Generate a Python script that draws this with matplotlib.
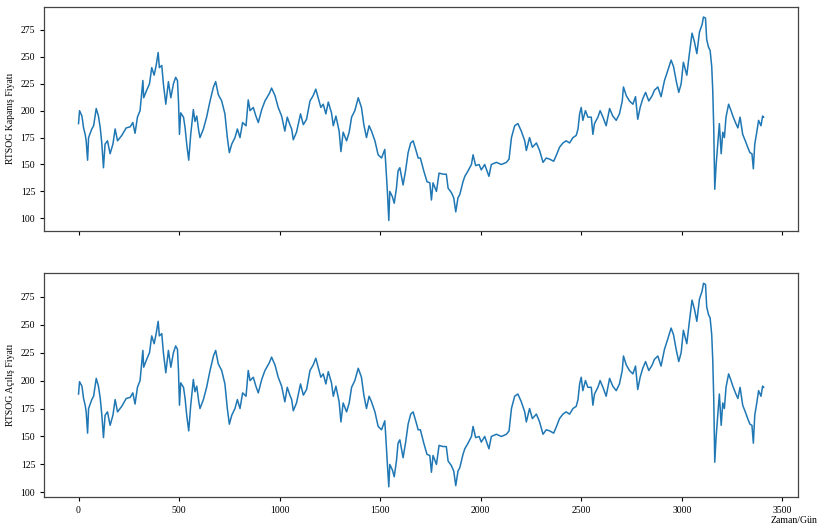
import matplotlib
matplotlib.use("Agg")
import matplotlib.pyplot as plt

plt.rcParams['font.family'] = ['Liberation Serif', 'DejaVu Serif']

# Gun / fiyat (resimden okunan yaklasik degerler)
days = [0, 5, 17, 25, 33, 38, 45, 50, 66, 75, 88, 99, 108, 116, 121, 124, 132, 144, 157, 171,
        182, 194, 215, 237, 257, 270, 281, 293, 306, 320, 324, 339, 353, 364, 376, 386, 396, 402,
        414, 422, 434, 447, 459, 472, 483, 492, 497, 502, 508, 522, 530, 538, 548, 558, 571, 579,
        588, 598, 604, 621, 637, 654, 671, 682, 695, 712, 728, 740, 750, 762, 778, 790, 803, 816,
        833, 844, 853, 869, 882, 894, 911, 927, 949, 960, 977, 993, 1010, 1026, 1038, 1051, 1060,
        1068, 1084, 1104, 1118, 1134, 1151, 1167, 1180, 1192, 1205, 1217, 1230, 1242, 1258, 1267,
        1280, 1296, 1305, 1316, 1333, 1346, 1358, 1374, 1391, 1407, 1419, 1432, 1445, 1457, 1474,
        1490, 1507, 1523, 1528, 1536, 1543, 1548, 1561, 1570, 1581, 1589, 1598, 1614, 1627, 1639,
        1652, 1664, 1680, 1689, 1700, 1717, 1733, 1747, 1755, 1763, 1780, 1793, 1813, 1829, 1838,
        1854, 1866, 1876, 1887, 1896, 1912, 1921, 1937, 1954, 1962, 1975, 1992, 2003, 2020, 2041,
        2053, 2078, 2103, 2128, 2141, 2153, 2169, 2185, 2202, 2219, 2227, 2243, 2257, 2277, 2293,
        2310, 2326, 2343, 2363, 2377, 2392, 2409, 2425, 2442, 2459, 2475, 2484, 2492, 2500, 2508,
        2521, 2533, 2550, 2558, 2566, 2583, 2594, 2608, 2624, 2641, 2657, 2674, 2690, 2704, 2710,
        2724, 2740, 2757, 2770, 2781, 2793, 2806, 2820, 2836, 2853, 2864, 2881, 2897, 2914, 2930,
        2947, 2959, 2972, 2985, 2997, 3008, 3025, 3038, 3051, 3063, 3075, 3088, 3101, 3108, 3118,
        3124, 3133, 3141, 3149, 3154, 3159, 3164, 3171, 3179, 3187, 3196, 3204, 3212, 3220, 3233,
        3245, 3254, 3267, 3279, 3290, 3303, 3316, 3328, 3339, 3349, 3356, 3363, 3373, 3382, 3394,
        3402, 3407]

kapanis = [188, 200, 195, 184, 178, 172, 154, 175, 183, 186, 202, 195, 184, 169, 156, 147, 169, 172, 160, 169,
           183, 172, 177, 184, 185, 189, 179, 194, 200, 228, 212, 219, 225, 240, 233, 242, 254, 240,
           242, 225, 206, 227, 212, 225, 231, 228, 209, 178, 198, 194, 184, 169, 154, 178, 201, 190,
           195, 181, 175, 183, 194, 209, 222, 227, 215, 209, 197, 175, 161, 169, 175, 183, 175, 189,
           186, 210, 200, 203, 195, 189, 201, 209, 216, 221, 214, 203, 195, 181, 194, 187, 183,
           173, 180, 197, 187, 192, 209, 214, 220, 212, 203, 206, 197, 208, 198, 186,
           195, 181, 162, 180, 172, 180, 194, 200, 212, 203, 187, 175, 186, 181, 172,
           159, 156, 164, 150, 125, 98, 125, 120, 114, 128, 144, 147, 131, 145, 161,
           170, 172, 162, 156, 156, 144, 134, 133, 117, 133, 125, 142, 141, 141, 128,
           124, 119, 106, 119, 122, 134, 139, 144, 150, 159, 149, 150, 145, 150, 139,
           150, 152, 150, 152, 155, 175, 186, 188, 181, 172, 163, 175, 166, 170, 163,
           152, 156, 155, 153, 159, 166, 170, 172, 170, 175, 177, 183, 197, 203, 191,
           200, 194, 194, 178, 188, 194, 200, 194, 186, 202, 195, 191, 197, 209, 222,
           214, 209, 206, 213, 192, 203, 211, 217, 209, 214, 219, 222, 213, 228, 237,
           247, 241, 228, 217, 225, 245, 233, 253, 272, 264, 253, 273, 280, 287, 286,
           266, 259, 256, 241, 219, 184, 127, 150, 169, 188, 160, 180, 175, 194, 206,
           200, 195, 189, 184, 194, 178, 172, 166, 161, 160, 146, 169, 180, 191, 186,
           195, 194]

acilis = [188, 199, 195, 184, 178, 172, 153, 175, 183, 186, 202, 195, 184, 169, 156, 149, 169, 172, 160, 169,
          183, 172, 177, 184, 185, 189, 179, 194, 200, 227, 212, 219, 225, 240, 233, 242, 253, 240,
          242, 225, 207, 227, 212, 225, 231, 228, 209, 178, 198, 194, 184, 169, 155, 178, 201, 190,
          195, 181, 175, 183, 194, 209, 222, 227, 215, 209, 197, 175, 161, 169, 175, 183, 175, 189,
          186, 209, 200, 203, 195, 189, 201, 209, 216, 221, 214, 203, 195, 181, 194, 187, 183,
          173, 180, 197, 187, 192, 209, 214, 220, 212, 203, 206, 197, 208, 198, 186,
          195, 181, 163, 180, 172, 180, 194, 200, 211, 203, 187, 175, 186, 181, 172,
          159, 156, 164, 150, 125, 105, 125, 120, 114, 128, 144, 147, 131, 145, 161,
          170, 172, 162, 156, 156, 144, 134, 133, 118, 133, 125, 142, 141, 141, 128,
          124, 119, 106, 119, 122, 134, 139, 144, 150, 159, 149, 150, 145, 150, 139,
          150, 152, 150, 152, 155, 175, 186, 188, 181, 172, 163, 175, 166, 170, 163,
          152, 156, 155, 153, 159, 166, 170, 172, 170, 175, 177, 183, 197, 203, 191,
          200, 194, 194, 178, 188, 194, 200, 194, 186, 202, 195, 191, 197, 209, 222,
          214, 209, 206, 213, 192, 203, 211, 217, 209, 214, 219, 222, 213, 228, 237,
          247, 241, 228, 217, 225, 245, 233, 253, 272, 264, 253, 273, 280, 287, 286,
          266, 259, 256, 241, 219, 184, 127, 150, 169, 188, 160, 180, 175, 194, 206,
          200, 195, 189, 184, 194, 178, 172, 166, 161, 160, 144, 169, 180, 191, 186,
          195, 194]

fig, (ax1, ax2) = plt.subplots(2, 1, sharex=True, figsize=(8.2, 5.27), dpi=100)
fig.subplots_adjust(left=0.054, right=0.973, top=0.987, bottom=0.057, hspace=0.19)

ax1.plot(days, kapanis, color='tab:blue', linewidth=1.1)
ax1.set_ylabel('RTSOG Kapanış Fiyatı', fontsize=7)

ax2.plot(days, acilis, color='tab:blue', linewidth=1.1)
ax2.set_ylabel('RTSOG Açılış Fiyatı', fontsize=7)

for ax in (ax1, ax2):
    ax.set_yticks([100, 125, 150, 175, 200, 225, 250, 275])
    ax.tick_params(labelsize=7, length=3, width=0.8)
    for s in ax.spines.values():
        s.set_color('#444444')
        s.set_linewidth(0.9)

ax2.set_xticks([0, 500, 1000, 1500, 2000, 2500, 3000, 3500])
fig.text(0.997, 0.004, 'Zaman/Gün', fontsize=7, ha='right', va='bottom')

plt.savefig('out.png')
